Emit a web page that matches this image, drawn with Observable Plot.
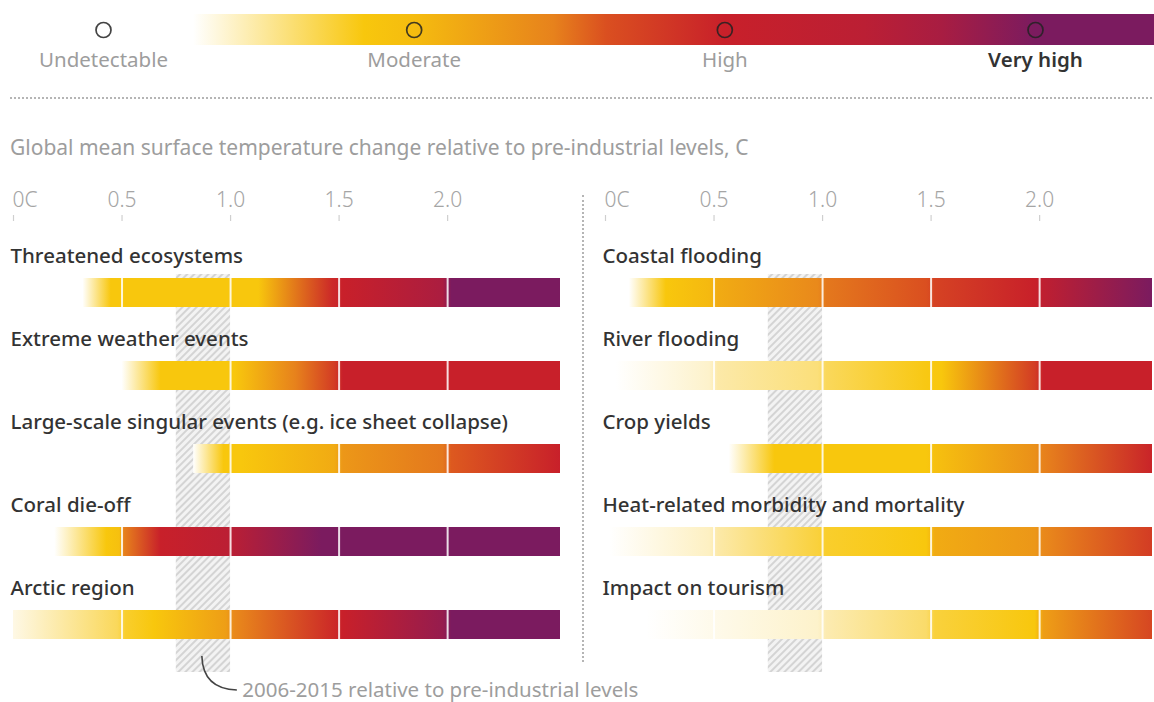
<!DOCTYPE html>
<html><head><meta charset="utf-8">
<script src="https://cdn.jsdelivr.net/npm/d3@7"></script>
<script src="https://cdn.jsdelivr.net/npm/@observablehq/plot@0.6"></script>
<style>
html,body{margin:0;padding:0;background:#fff;overflow:hidden;width:1154px;height:702px;}
#root{position:relative;width:1154px;height:702px;font-family:"Noto Sans",sans-serif;overflow:hidden;}
.abs{position:absolute;}
#legend{left:0;top:0;width:1154px;}
#hr{left:10px;top:97px;width:1142px;height:0;border-top:2px dotted #b5b5b5;}
#sub{left:10px;top:133px;font-size:21px;line-height:28px;color:#9d9d9d;white-space:nowrap;}
#left{left:0;top:170px;width:580px;}
#right{left:592px;top:170px;width:580px;}
#vdiv{left:582px;top:195px;width:0;height:467px;border-left:2px dotted #b5b5b5;}
svg{overflow:visible;max-width:none !important;}
</style></head>
<body><div id="root">
<div id="legend" class="abs"></div>
<div id="hr" class="abs"></div>
<div id="sub" class="abs">Global mean surface temperature change relative to pre-industrial levels, C</div>
<div id="vdiv" class="abs"></div>
<div id="left" class="abs"></div>
<div id="right" class="abs"></div>
</div>
<script>
// ---------- data ----------
const riskLevels = ["Undetectable", "Moderate", "High", "Very high"];
const colorLevels = [0, 0.5, 1, 1.5, 1.75, 2, 2.5, 3];
const colorValues = ["#ffffff", "#fce9a8", "#f8c70d", "#e7821c", "#da4f20", "#c8202a", "#a81d42", "#7b1b5f"];
const legendStopPos = [0.29, 0.84, 1.0, 1.45, 1.62, 2.0, 2.45, 2.7, 3.0, 3.4];
const legendStopLevel = [0, 1, 1.08, 1.5, 1.75, 2, 2.2, 2.5, 3, 3];

const tickValues = [0, 0.5, 1, 1.5, 2];
const tickLabels = ["0C", "0.5", "1.0", "1.5", "2.0"];
const dividers = [0.5, 1, 1.5, 2];
const barEnd = 2.52;
const recentRange = [0.75, 1.0];
const recentMean = 0.87;
const recentNote = "2006-2015 relative to pre-industrial levels";

const leftRows = ["Threatened ecosystems", "Extreme weather events", "Large-scale singular events (e.g. ice sheet collapse)", "Coral die-off", "Arctic region"];
const leftTemps = [
  [0.32, 0.45, 1.13, 1.47, 1.52, 1.98, 2.02, 2.52],
  [0.5, 0.68, 1.02, 1.3, 1.48, 1.52, 2.52],
  [0.83, 0.97, 1.05, 1.48, 1.52, 1.98, 2.02, 2.52],
  [0.19, 0.43, 0.49, 0.51, 0.68, 1.0, 1.42, 2.52],
  [0, 0.48, 0.52, 0.65, 0.98, 1.02, 1.48, 1.52, 1.98, 2.02, 2.52]
];
const leftLevels = [
  [0, 1, 1, 1.95, 2, 2.45, 3, 3],
  [0, 1, 1, 1.5, 1.85, 2, 2],
  [0, 1, 1, 1.2, 1.35, 1.55, 1.7, 2],
  [0, 1, 1.05, 1.5, 2, 2.2, 3, 3],
  [0.15, 0.75, 0.9, 1, 1.3, 1.45, 1.95, 2, 2.7, 3, 3]
];
const rightRows = ["Coastal flooding", "River flooding", "Crop yields", "Heat-related morbidity and mortality", "Impact on tourism"];
const rightTemps = [
  [0.11, 0.28, 0.48, 0.52, 0.98, 1.02, 1.48, 1.52, 1.98, 2.02, 2.52],
  [0.05, 0.48, 0.52, 0.98, 1.02, 1.48, 1.55, 1.98, 2.02, 2.52],
  [0.57, 0.78, 1.48, 1.52, 1.98, 2.02, 2.52],
  [0.02, 0.48, 0.52, 0.98, 1.02, 1.48, 1.52, 1.98, 2.02, 2.52],
  [0.19, 0.98, 1.02, 1.48, 1.52, 1.98, 2.02, 2.52]
];
const rightLevels = [
  [0, 1, 1.1, 1.2, 1.45, 1.55, 1.75, 1.82, 2, 2.15, 3],
  [0, 0.3, 0.5, 0.65, 0.75, 0.98, 1, 1.85, 2, 2],
  [0, 1, 1, 1.05, 1.4, 1.5, 1.98],
  [0, 0.35, 0.5, 0.85, 0.9, 1, 1.2, 1.35, 1.45, 1.85],
  [0, 0.3, 0.45, 0.7, 0.85, 1, 1.3, 1.8]
];

// ---------- helpers ----------
const NS = "http://www.w3.org/2000/svg";
const riskColor = d3.scaleLinear().domain(colorLevels).range(colorValues).interpolate(d3.interpolateRgb);
function el(tag, attrs) {
  const e = document.createElementNS(NS, tag);
  for (const k in attrs) e.setAttribute(k, attrs[k]);
  return e;
}
function gradient(id, pos, lev) {
  const p0 = pos[0], p1 = pos[pos.length - 1];
  const g = el("linearGradient", {id, x1: 0, y1: 0, x2: 1, y2: 0});
  pos.forEach((p, k) => g.appendChild(el("stop", {offset: (p - p0) / (p1 - p0), "stop-color": riskColor(lev[k])})));
  return g;
}
const FONT = "Noto Sans";

// ---------- legend ----------
const legendPlot = Plot.plot({
  width: 1154, height: 80,
  marginLeft: 103, marginRight: 119, marginTop: 14, marginBottom: 35,
  x: {domain: [0, 3], axis: null},
  color: {type: "identity"},
  style: {fontFamily: FONT, fontSize: "21px", background: "transparent", overflow: "hidden", maxWidth: "none"},
  marks: [
    () => { const d = el("defs", {}); d.appendChild(gradient("legend-grad", legendStopPos, legendStopLevel)); return d; },
    Plot.rect([{a: legendStopPos[0], b: legendStopPos[legendStopPos.length - 1]}], {x1: "a", x2: "b", fill: () => "url(#legend-grad)"}),
    Plot.dot(riskLevels, {x: (d, i) => i, frameAnchor: "middle", r: 7.5, stroke: "#222", strokeOpacity: 0.85, strokeWidth: 1.7, fill: "none"}),
    Plot.text(riskLevels.slice(0, 3), {x: (d, i) => i, text: d => d, frameAnchor: "bottom", lineAnchor: "middle", dy: 15, fill: "#9d9d9d", fontSize: 20.5}),
    Plot.text(riskLevels.slice(3), {x: () => 3, text: d => d, frameAnchor: "bottom", lineAnchor: "middle", dy: 15, fill: "#333", fontSize: 20.5, fontWeight: 600})
  ]
});
document.getElementById("legend").appendChild(legendPlot);

// ---------- panels ----------
function panel(rows, temps, levels, pid, annotate) {
  const data = rows.map((name, i) => ({name, i, start: temps[i][0], end: temps[i][temps[i].length - 1]}));
  const divs = data.flatMap(d => dividers.filter(v => v > d.start).map(v => ({name: d.name, x: v})));
  const ticks = tickValues.map((v, i) => ({v, label: tickLabels[i]}));
  const defs = () => {
    const d = el("defs", {});
    data.forEach((r, i) => d.appendChild(gradient(`${pid}-g${i}`, temps[i], levels[i])));
    const p = el("pattern", {id: `${pid}-hatch`, patternUnits: "userSpaceOnUse", width: 5, height: 5, patternTransform: "rotate(45)"});
    p.appendChild(el("rect", {x: 0, y: 0, width: 5, height: 5, fill: "#f3f3f3"}));
    p.appendChild(el("line", {x1: 1, y1: 0, x2: 1, y2: 5, stroke: "#cdcdcd", "stroke-width": 1.6}));
    d.appendChild(p);
    return d;
  };
  const marks = [
    defs,
    Plot.axisX({anchor: "top", ticks: tickValues, tickSize: 6, tickFormat: () => "", stroke: "#cfcfcf", strokeWidth: 1.2}),
    Plot.text(ticks.slice(1), {x: "v", text: "label", frameAnchor: "top", lineAnchor: "middle", dy: -20, fill: "#a5a5a5", fontSize: 21, fontWeight: 300}),
    Plot.text(ticks.slice(0, 1), {x: "v", text: "label", frameAnchor: "top", lineAnchor: "middle", dy: -20, dx: -1, textAnchor: "start", fill: "#a5a5a5", fontSize: 21, fontWeight: 300}),
    Plot.rect([{a: recentRange[0], b: recentRange[1]}], {x1: "a", x2: "b", fill: () => `url(#${pid}-hatch)`, insetTop: 54}),
    Plot.text(data, {y: "name", text: "name", frameAnchor: "left", textAnchor: "start", dx: -3, dy: -22, fill: "#333", fontSize: 20.5, fontWeight: 500}),
    Plot.barX(data, {x1: "start", x2: "end", y: "name", fill: d => `url(#${pid}-g${d.i})`, insetTop: 42, insetBottom: 12}),
    Plot.tickX(divs, {x: "x", y: "name", stroke: "#ffffff", strokeOpacity: 0.85, strokeWidth: 2, insetTop: 42, insetBottom: 12})
  ];
  if (annotate) {
    marks.push(
      (index, scales, values, dim) => {
        const x0 = scales.x(recentMean), yb = dim.height - dim.marginBottom;
        return el("path", {d: `M${x0},${yb - 16} Q${x0 + 1},${yb + 17} ${x0 + 35},${yb + 18}`, fill: "none", stroke: "#444", "stroke-width": 1.6});
      },
      Plot.text([recentNote], {x: () => recentMean, text: d => d, frameAnchor: "bottom", lineAnchor: "middle", textAnchor: "start", dx: 40, dy: 18, fill: "#9d9d9d", fontSize: 20.5})
    );
  }
  return Plot.plot({
    width: 580, height: 532,
    marginLeft: 13, marginRight: 20, marginTop: 50, marginBottom: 30,
    x: {domain: [0, barEnd], axis: null},
    y: {domain: rows, range: [66, 481], padding: 0, axis: null},
    color: {type: "identity"},
    style: {fontFamily: FONT, fontSize: "18px", background: "transparent", overflow: "visible", maxWidth: "none"},
    marks
  });
}
document.getElementById("left").appendChild(panel(leftRows, leftTemps, leftLevels, "L", true));
document.getElementById("right").appendChild(panel(rightRows, rightTemps, rightLevels, "R", false));
</script>
</body></html>
